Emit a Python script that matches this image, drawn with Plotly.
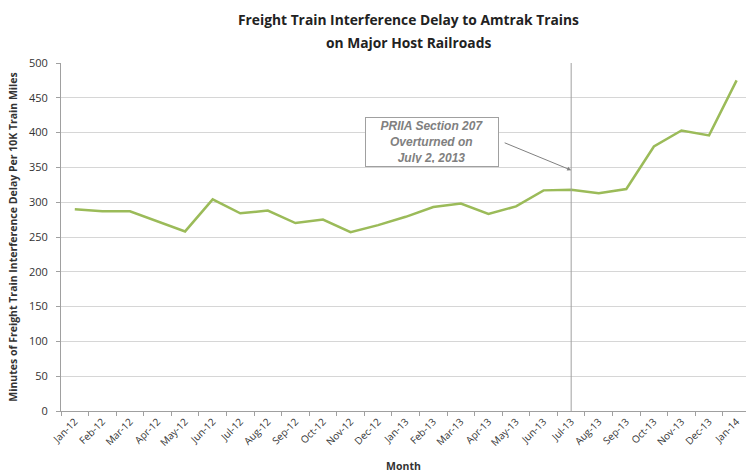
import plotly.graph_objects as go

months = ["Jan-12","Feb-12","Mar-12","Apr-12","May-12","Jun-12","Jul-12","Aug-12","Sep-12","Oct-12",
          "Nov-12","Dec-12","Jan-13","Feb-13","Mar-13","Apr-13","May-13","Jun-13","Jul-13","Aug-13",
          "Sep-13","Oct-13","Nov-13","Dec-13","Jan-14"]
delay = [290, 287, 287, 273, 258, 304, 284, 288, 270, 275,
         257, 267, 279, 293, 298, 283, 294, 317, 318, 313,
         319, 380, 403, 396, 475]

event_month = "Jul-13"
event_text = "PRIIA Section 207<br>Overturned on<br>July 2, 2013"
title_lines = ["Freight Train Interference Delay to Amtrak Trains", "on Major Host Railroads"]

L, R, T, B = 61, 0, 63, 65
W, H = 746, 476
pw, ph = W - L - R, H - T - B

def px(x):
    return (x - L) / pw

def py(y):
    return (H - B - y) / ph

fig = go.Figure()
fig.add_trace(go.Scatter(x=months, y=delay, mode="lines", cliponaxis=False,
                         line=dict(color="#9BBB59", width=2.5), showlegend=False))

fig.add_shape(type="line", xref="x", yref="y", x0=event_month, x1=event_month, y0=0, y1=500,
              line=dict(color="#A0A0A0", width=1))

fig.add_annotation(xref="x", yref="y", x=event_month, y=346,
                   ax=-68, ay=-28,
                   text="", showarrow=True, arrowhead=2, arrowsize=0.8, arrowwidth=1,
                   arrowcolor="#808080")
fig.add_annotation(xref="paper", yref="paper", x=px(432), y=py(142),
                   text="<i><b>" + event_text + "</b></i>", showarrow=False,
                   font=dict(family="Liberation Sans, Arial", size=12, color="#808080"),
                   bgcolor="white", bordercolor="#A0A0A0", borderwidth=1, borderpad=3,
                   width=126, height=42,
                   align="center", xanchor="center", yanchor="middle")

for i, line in enumerate(title_lines):
    fig.add_annotation(xref="paper", yref="paper", x=px(409), y=py(19 + 23 * i),
                       text="<b>" + line + "</b>", showarrow=False,
                       font=dict(family="Open Sans, Lato, sans-serif", size=13.8, color="#222"),
                       xanchor="center", yanchor="middle")

fig.update_layout(
    width=W, height=H,
    margin=dict(l=L, r=R, t=T, b=B),
    paper_bgcolor="white", plot_bgcolor="white",
    font=dict(family="Open Sans, Lato, sans-serif", color="#333"),
)
fig.update_xaxes(type="category", range=[-0.5, len(months) - 0.66], tickmode="array",
                 tickvals=months, ticktext=months,
                 tickangle=-45, tickfont=dict(size=10, color="#333"),
                 showgrid=False, showline=True, linecolor="#A0A0A0",
                 ticks="outside", tickson="boundaries", ticklen=4, tickcolor="#A0A0A0",
                 title=dict(text="<b>Month</b>", font=dict(size=10.5, color="#333"), standoff=14))
fig.update_yaxes(range=[0, 500], dtick=50, tickfont=dict(size=11, color="#333"),
                 ticklabelstandoff=6,
                 showgrid=True, gridcolor="#D6D6D6", gridwidth=1,
                 showline=True, linecolor="#A0A0A0", ticks="outside", ticklen=4, tickcolor="#A0A0A0",
                 zeroline=False,
                 title=dict(text="<b>Minutes of Freight Train Interference Delay Per 10K Train Miles</b>",
                            font=dict(size=10.5, color="#333"), standoff=9))

fig.write_html("out.html", config={"displayModeBar": False},
               post_script="document.body.style.margin='0';")
